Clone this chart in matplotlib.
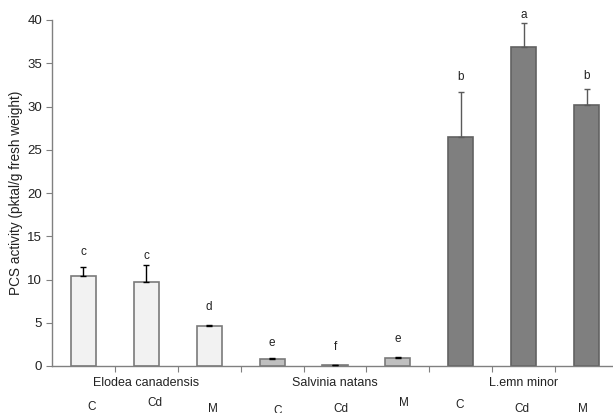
import numpy as np
import matplotlib.pyplot as plt

plt.rcParams["font.family"] = ["Liberation Sans", "DejaVu Sans"]

species = ["Elodea canadensis", "Salvinia natans", "L.emn minor"]
treatments = ["C", "Cd", "M", "C", "Cd", "M", "C", "Cd", "M"]
values = [10.45, 9.75, 4.6, 0.8, 0.12, 0.97, 26.5, 36.9, 30.2]
errors = [1.05, 1.95, 0.1, 0.1, 0.05, 0.05, 5.2, 2.7, 1.8]
letters = ["c", "c", "d", "e", "f", "e", "b", "a", "b"]
letter_y = [13.2, 12.7, 6.8, 2.7, 2.2, 3.1, 33.4, 40.6, 33.5]

fill_colors = ["#f2f2f2"] * 3 + ["#bfbfbf"] * 3 + ["#7f7f7f"] * 3
edge_colors = ["#7a7a7a"] * 6 + ["#626262"] * 3
err_colors = ["#000000"] * 6 + ["#5a5a5a"] * 3
# small vertical jitter of the treatment labels (points)
sub_dy = [-4, 0, -6, -7, -6, 0, -1, -6, -6]
sub_dx = [8, 9, 4, 6, 6, 6, -1, -2, -4]

fig = plt.figure(figsize=(6.13, 4.13), dpi=100)
ax = fig.add_axes([52 / 613, 1 - 366 / 413, 566 / 613, 346 / 413])

x = np.arange(len(values))
ax.bar(x, values, width=0.4, color=fill_colors, edgecolor=edge_colors,
       linewidth=1.2, zorder=2)
for xi, v, e, c in zip(x, values, errors, err_colors):
    ax.errorbar(xi, v, yerr=[[0], [e]], fmt="none", ecolor=c,
                elinewidth=1.0, capsize=2.5, capthick=1.0, zorder=3)
for xi, t, ly in zip(x, letters, letter_y):
    ax.text(xi, ly, t, ha="center", va="center", fontsize=8.5,
            color="#222222", clip_on=False)

ax.set_xlim(-0.5, 8.5)
ax.set_ylim(0, 40)
ax.set_yticks(range(0, 41, 5))
ax.set_xticks(np.arange(0.5, 8, 1))
ax.set_xticklabels([])
ax.tick_params(axis="y", direction="out", length=4, color="#808080",
               labelsize=9.5, labelcolor="#222222", pad=3)
ax.tick_params(axis="x", direction="out", length=4, color="#808080")
for s in ["top", "right"]:
    ax.spines[s].set_visible(False)
for s in ["left", "bottom"]:
    ax.spines[s].set_color("#808080")
    ax.spines[s].set_linewidth(1.0)

ax.set_ylabel("PCS activity (pktal/g fresh weight)", fontsize=9.8,
              color="#222222", labelpad=3)

for i, name in enumerate(species):
    ax.annotate(name, xy=(3 * i + 1, 0), xycoords=("data", "axes fraction"),
                xytext=(0, -12), textcoords="offset points",
                ha="center", va="center", fontsize=9, color="#222222")
for xi, t, dx, dy in zip(x, treatments, sub_dx, sub_dy):
    ax.annotate(t, xy=(xi, 0), xycoords=("data", "axes fraction"),
                xytext=(dx * 0.72, -27 + dy * 0.72), textcoords="offset points",
                ha="center", va="center", fontsize=8.5, color="#222222")

fig.savefig("out.png", dpi=100)
